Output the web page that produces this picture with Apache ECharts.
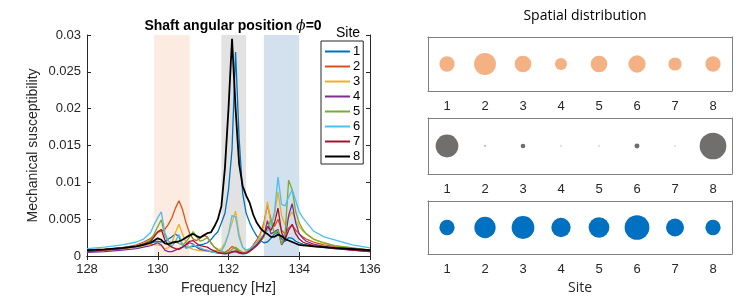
<!DOCTYPE html>
<html><head><meta charset="utf-8">
<script src="https://cdn.jsdelivr.net/npm/echarts@6/dist/echarts.min.js"></script>
<style>html,body{margin:0;padding:0;background:#fff}#c{width:747px;height:304px}</style>
</head><body><div id="c"></div>
<script>
// Frequency grid [Hz]
const freq = [128,128.5,129,129.4,129.6,129.8,129.9,130.0,130.1,130.2,130.3,130.4,130.5,130.6,130.7,130.8,130.9,131.0,131.1,131.2,131.3,131.4,131.5,131.6,131.7,131.8,131.9,132.0,132.1,132.2,132.3,132.4,132.5,132.6,132.7,132.8,132.9,133.0,133.1,133.2,133.3,133.4,133.5,133.6,133.7,133.8,133.9,134.0,134.1,134.2,134.4,134.7,135.0,135.5,136.0];
// Mechanical susceptibility, in units of 1e-3
const site1 = [0.7,0.8,1.0,1.3,1.5,1.7,1.9,2.0,1.9,2.0,2.3,2.6,3.0,2.6,1.5,1.2,1.2,1.3,1.4,1.5,1.6,1.8,2.2,2.8,3.3,4.5,5.8,9.0,14.5,27.7,16.0,8.5,5.8,4.5,3.5,2.7,2.1,1.8,1.9,2.4,3.0,3.2,2.3,2.0,2.5,2.4,2.0,1.8,1.6,1.5,1.3,1.15,1.0,0.85,0.7];
const site2 = [0.7,0.9,1.1,1.5,1.9,2.4,2.8,3.2,3.4,3.6,4.3,5.2,6.5,7.5,6.3,4.5,3.1,2.3,2.1,2.4,2.8,2.6,1.8,1.2,0.9,0.6,0.5,0.8,1.3,1.0,0.6,0.4,0.5,0.9,1.5,2.2,3.0,4.5,6.9,5.0,4.0,5.0,3.5,3.0,3.8,4.2,3.5,3.0,2.6,2.3,1.9,1.5,1.3,1.0,0.8];
const site3 = [0.6,0.8,1.0,1.2,1.4,1.6,1.5,1.5,1.4,1.0,1.1,1.8,3.2,4.3,3.0,1.8,1.1,0.9,0.8,0.7,0.7,0.7,0.6,0.7,0.8,1.0,1.8,3.0,4.5,6.1,3.0,1.2,0.6,0.8,1.3,1.9,2.8,4.0,7.4,4.2,5.5,8.7,5.5,4.2,5.2,6.0,4.8,4.0,3.4,3.0,2.3,1.7,1.4,1.1,0.8];
const site4 = [0.5,0.6,0.8,1.0,1.2,1.4,1.6,1.8,1.5,0.8,0.6,0.6,0.8,1.0,1.2,1.5,1.8,1.6,1.2,0.9,0.8,0.7,0.6,0.5,0.4,0.35,0.3,0.35,0.5,0.6,0.4,0.3,0.35,0.6,1.0,1.4,1.9,2.7,4.8,3.0,3.3,3.6,1.5,2.2,5.5,7.1,4.5,3.0,2.4,2.0,1.6,1.3,1.1,0.8,0.6];
const site5 = [0.8,0.9,1.1,1.4,1.7,2.2,3.0,4.0,4.9,2.8,2.0,1.8,2.0,1.7,1.5,1.9,2.6,3.3,2.6,2.0,2.2,2.5,1.8,1.2,0.8,0.5,0.4,0.5,0.9,1.2,0.8,0.5,0.5,0.8,1.2,1.6,2.0,2.6,3.8,4.9,3.0,3.5,1.6,3.0,10.3,9.0,6.0,4.5,3.6,3.0,2.3,1.8,1.4,1.1,0.8];
const site6 = [1.0,1.2,1.5,1.9,2.3,3.2,4.3,5.2,6.0,3.2,2.0,1.3,2.0,2.9,1.5,1.0,1.2,1.5,1.3,1.1,0.9,0.8,0.6,0.5,0.5,0.7,1.5,3.0,5.5,5.3,2.5,1.2,0.8,1.0,1.4,1.8,2.4,3.0,3.4,4.0,6.0,10.7,7.0,6.8,8.0,9.0,7.5,6.0,5.2,4.6,3.4,2.6,2.2,1.5,1.1];
const site7 = [0.6,0.8,1.0,1.3,1.6,2.0,2.6,3.3,3.6,2.2,1.5,1.2,1.0,0.9,1.2,1.6,2.0,2.1,1.7,1.4,1.3,1.2,0.9,0.7,0.5,0.4,0.35,0.4,0.6,0.7,0.5,0.4,0.4,0.7,1.1,1.5,2.1,2.8,4.0,3.5,4.5,6.5,3.2,2.2,3.5,4.3,3.0,2.3,1.9,1.7,1.4,1.2,1.0,0.8,0.6];
const site8 = [0.8,0.9,1.1,1.3,1.5,1.8,2.1,2.4,2.2,1.7,1.6,1.8,1.9,2.0,2.2,2.5,2.8,3.0,2.7,2.5,2.8,3.1,3.2,4.0,5.0,6.8,12.0,20.0,29.5,20.0,12.5,9.5,8.2,7.2,5.6,4.5,3.8,3.3,3.0,2.6,2.6,2.9,2.7,2.3,2.1,1.9,1.7,1.5,1.45,1.4,1.3,1.2,1.1,0.95,0.8];
const siteNames = ['1','2','3','4','5','6','7','8'];
// Shaded frequency bands [Hz]
const bands = [[129.9,130.9],[131.8,132.5],[133.0,134.0]];
// Spatial distribution amplitudes (relative, area-proportional)
const ampBand1 = [0.32,0.66,0.38,0.20,0.38,0.41,0.24,0.32];
const ampBand2 = [0.71,0.003,0.03,0.0014,0.0014,0.034,0.0014,0.98];
const ampBand3 = [0.32,0.62,0.71,0.51,0.59,0.84,0.44,0.32];

const seriesVals = [site1,site2,site3,site4,site5,site6,site7,site8];
const colors = ['#0072BD','#D95319','#EDB120','#7E2F8E','#77AC30','#4DBEEE','#A2142F','#000000'];
const bandColors = ['#FBEBE1','#E2E2E2','#D3E0EE'];
const axisCol = '#262626';
const F = 'Liberation Sans, Arial, sans-serif';

const chart = echarts.init(document.getElementById('c'), null, {renderer:'canvas'});

const grids = [
  {left:87, right:377, top:35, bottom:48},
  {left:428, right:15, top:37, height:54},
  {left:428, right:15, top:118, height:56},
  {left:428, right:15, top:201, height:53}
];
const xAxes = [
  {type:'value', gridIndex:0, min:128, max:136, interval:2, position:'bottom',
   axisLine:{lineStyle:{color:axisCol}}, axisTick:{inside:true, length:4, lineStyle:{color:axisCol}},
   axisLabel:{color:axisCol, fontSize:13, fontFamily:F, margin:7}, splitLine:{show:false},
   name:'Frequency [Hz]', nameLocation:'middle', nameGap:23, nameTextStyle:{color:axisCol, fontSize:14, fontFamily:F}},
  {type:'value', gridIndex:0, min:128, max:136, interval:2, position:'top',
   axisLine:{lineStyle:{color:axisCol}}, axisTick:{inside:true, length:4, lineStyle:{color:axisCol}},
   axisLabel:{show:false}, splitLine:{show:false}}
];
const yAxes = [
  {type:'value', gridIndex:0, min:0, max:30, interval:5, position:'left',
   axisLine:{show:true, lineStyle:{color:axisCol}}, axisTick:{show:true, inside:true, length:4, lineStyle:{color:axisCol}},
   axisLabel:{color:axisCol, fontSize:13, fontFamily:F, margin:6, formatter:v=> v===0?'0':String(v/1000)}, splitLine:{show:false},
   name:'Mechanical susceptibility', nameLocation:'middle', nameGap:47, nameTextStyle:{color:axisCol, fontSize:14, fontFamily:F}},
  {type:'value', gridIndex:0, min:0, max:30, interval:5, position:'right',
   axisLine:{show:true, lineStyle:{color:axisCol}}, axisTick:{show:true, inside:true, length:4, lineStyle:{color:axisCol}},
   axisLabel:{show:false}, splitLine:{show:false}}
];
const panelCol = '#808080';
for (let g=1; g<=3; g++) {
  xAxes.push({type:'category', gridIndex:g, data:siteNames, position:'bottom', boundaryGap:true,
    axisLine:{lineStyle:{color:panelCol}}, axisTick:{alignWithLabel:true, inside:true, length:4, lineStyle:{color:panelCol}},
    axisLabel:{color:axisCol, fontSize:13, fontFamily:F, margin:9},
    name: g===3 ? 'Site' : '', nameLocation:'middle', nameGap:27, nameTextStyle:{color:axisCol, fontSize:14, fontFamily:'Open Sans, sans-serif'}});
  xAxes.push({type:'category', gridIndex:g, data:siteNames, position:'top', boundaryGap:true,
    axisLine:{lineStyle:{color:panelCol}}, axisTick:{alignWithLabel:true, inside:true, length:4, lineStyle:{color:panelCol}},
    axisLabel:{show:false}});
  yAxes.push({type:'category', gridIndex:g, data:['a'], position:'left',
    axisLine:{show:true, lineStyle:{color:panelCol}}, axisTick:{show:false}, axisLabel:{show:false}});
  yAxes.push({type:'category', gridIndex:g, data:['a'], position:'right',
    axisLine:{show:true, lineStyle:{color:panelCol}}, axisTick:{show:false}, axisLabel:{show:false}});
}

const series = [];
series.push({type:'line', xAxisIndex:0, yAxisIndex:0, data:[], silent:true, z:0,
  markArea:{silent:true, z:0, data: bands.map((b,i)=>[{xAxis:b[0], itemStyle:{color:bandColors[i]}},{xAxis:b[1]}])}});
seriesVals.forEach((vals,k)=>{
  series.push({type:'line', name:siteNames[k], xAxisIndex:0, yAxisIndex:0, symbol:'none',
    data: freq.map((f,i)=>[f, vals[i]]),
    lineStyle:{color:colors[k], width: k===7 ? 1.8 : 1.3}, itemStyle:{color:colors[k]}, z: 3+k});
});
const bubbleCols = ['#F4B183','#716F6E','#0070C0'];
[ampBand1, ampBand2, ampBand3].forEach((amps,p)=>{
  series.push({type:'scatter', xAxisIndex:2+2*p, yAxisIndex:2+2*p, symbol:'circle',
    data: amps.map((a,i)=>[i,0,a]),
    symbolSize: v=>27*Math.sqrt(v[2]),
    itemStyle:{color:bubbleCols[p], opacity:1}});
});

chart.setOption({
  animation:false,
  backgroundColor:'#fff',
  title:[
    {text:'{a|Shaft angular position }{b|ϕ}{a|=0}', left:228, top:14, textAlign:'center',
     textStyle:{rich:{a:{fontSize:14, fontWeight:'bold', fontFamily:F, color:'#000'}, b:{fontSize:14, fontStyle:'italic', fontWeight:'normal', fontFamily:'DejaVu Serif, serif', color:'#000'}}}},
    {text:'Spatial distribution', left:580, top:4, textAlign:'center',
     textStyle:{fontSize:14, fontWeight:'normal', fontFamily:'Open Sans, sans-serif', color:'#000'}}
  ],
  legend:{data:siteNames, orient:'vertical', left:321, top:41, padding:[4,3,1,3], itemGap:2, itemWidth:25, itemHeight:14,
    itemStyle:{opacity:0, borderWidth:0},
    backgroundColor:'#fff', borderColor:axisCol, borderWidth:1, textStyle:{fontSize:13, fontFamily:F, color:'#000', padding:[0,0,0,-2]}},
  graphic:[{type:'text', left:333, top:26, z:100,
    style:{text:'Site', fontSize:14, fontFamily:F, fill:'#000', backgroundColor:'#fff', padding:[0,3]}}],
  grid:grids,
  xAxis:xAxes,
  yAxis:yAxes,
  series:series
});
</script></body></html>
